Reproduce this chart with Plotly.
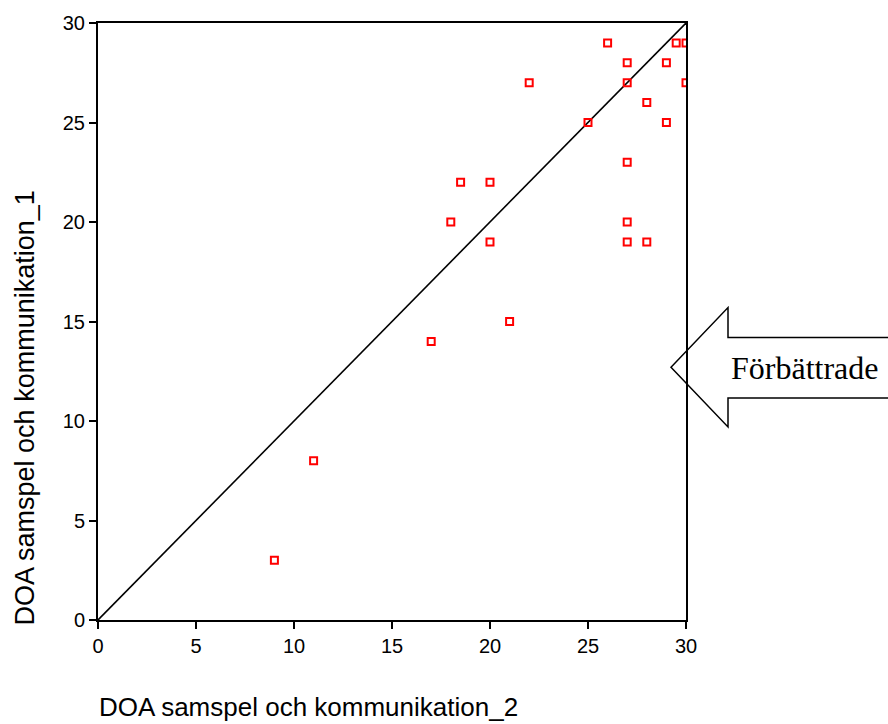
import plotly.graph_objects as go

# Data
doa_2 = [9, 11, 17, 18, 18.5, 20, 20, 21, 22, 25, 26, 27, 27, 27, 27, 27, 28, 28, 29, 29, 29.5, 30, 30]
doa_1 = [3, 8, 14, 20, 22, 22, 19, 15, 27, 25, 29, 28, 27, 23, 20, 19, 19, 26, 28, 25, 29, 29, 27]
ref_line = [0, 30]
tick_vals = [0, 5, 10, 15, 20, 25, 30]
x_title = "DOA samspel och kommunikation_2"
y_title = "DOA samspel och kommunikation_1"
arrow_text = "Förbättrade"

W, H = 888, 724
L, R, T, B = 98, 202, 20, 104
PW, PH = W - L - R, H - T - B


def px(xp):
    return (xp - L) / PW


def py(yp):
    return (H - B - yp) / PH


fig = go.Figure()
fig.add_trace(go.Scatter(x=ref_line, y=ref_line, mode="lines",
                         line=dict(color="black", width=1.6),
                         hoverinfo="skip", showlegend=False))
fig.add_trace(go.Scatter(x=doa_2, y=doa_1, mode="markers",
                         marker=dict(symbol="square-open", size=7, color="#ff0000",
                                     line=dict(width=2, color="#ff0000")),
                         showlegend=False))

axis_common = dict(range=[0, 30], tickvals=tick_vals, ticks="outside", ticklen=7,
                   tickwidth=1.6, tickcolor="black", showline=True, linecolor="black",
                   linewidth=2, mirror=True, showgrid=False, zeroline=False,
                   tickfont=dict(family="Liberation Sans, Arial", size=20, color="black"))
fig.update_xaxes(**axis_common)
fig.update_yaxes(**axis_common)

# Arrow shape (pixel-based decoration, in paper coords)
pts = [(671, 366), (728, 306), (728, 336), (900, 336), (900, 397), (728, 397), (728, 426)]
path = "M " + " L ".join(f"{px(a):.5f},{py(b):.5f}" for a, b in pts) + " Z"
fig.add_shape(type="path", xref="paper", yref="paper", path=path,
              line=dict(color="black", width=1.5), fillcolor="rgba(0,0,0,0)")

fig.add_annotation(text=arrow_text, xref="paper", yref="paper", x=px(730), y=py(367),
                   xanchor="left", yanchor="middle", showarrow=False, borderpad=0,
                   font=dict(family="Liberation Serif, Times New Roman", size=32, color="black"))
fig.add_annotation(text=x_title, xref="paper", yref="paper", x=0, y=py(707),
                   xanchor="left", yanchor="middle", showarrow=False, borderpad=0,
                   font=dict(family="Liberation Sans, Arial", size=26, color="black"))
fig.add_annotation(text=y_title, xref="paper", yref="paper", x=px(25), y=py(627),
                   xanchor="center", yanchor="bottom", textangle=-90, showarrow=False,
                   borderpad=0,
                   font=dict(family="Liberation Sans, Arial", size=27, color="black"))

fig.update_layout(width=W, height=H, margin=dict(l=L, r=R, t=T, b=B),
                  paper_bgcolor="white", plot_bgcolor="white")

fig.write_html("out.html")
